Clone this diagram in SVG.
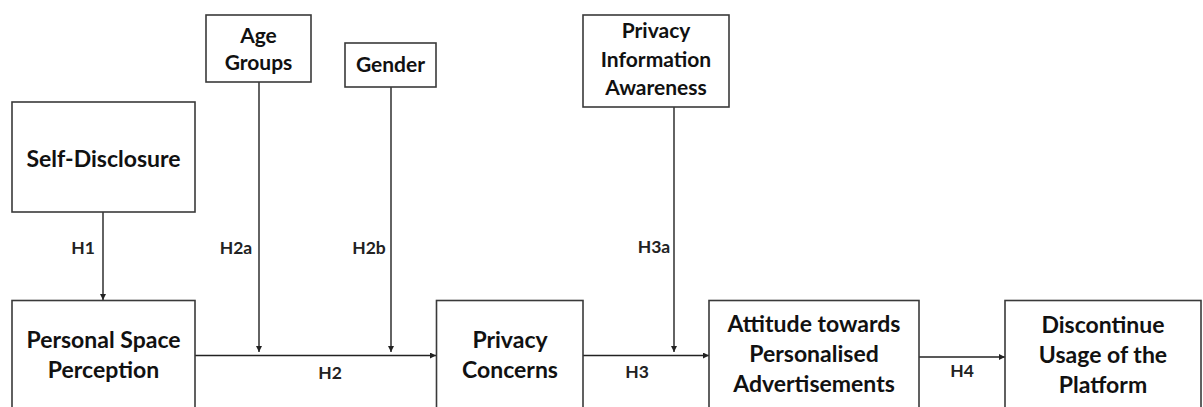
<svg xmlns="http://www.w3.org/2000/svg" width="1203" height="407" viewBox="0 0 1203 407">
<style>
.box{fill:#fff;stroke:#3a3a3a;stroke-width:1.6}
.t{font-family:Lato,"Open Sans","Liberation Sans",sans-serif;font-weight:bold;font-size:23px;fill:#111;text-anchor:middle}
.m{font-size:21px}
.s{font-family:Lato,"Open Sans","Liberation Sans",sans-serif;font-weight:bold;font-size:17.5px;fill:#222;text-anchor:middle}
.c{stroke:#222;stroke-width:1.4;fill:none;marker-end:url(#ah)}
</style>
<defs>
<marker id="ah" viewBox="0 0 10 10" refX="10" refY="5" markerWidth="6" markerHeight="6" markerUnits="userSpaceOnUse" orient="auto">
<path d="M0,0 L10,5 L0,10 z" fill="#222"/>
</marker>
</defs>
<rect width="1203" height="407" fill="#fff"/>
<g id="connectors">
<line class="c" x1="103" y1="212" x2="103" y2="300"/>
<line class="c" x1="259" y1="82" x2="259" y2="352"/>
<line class="c" x1="391" y1="87" x2="391" y2="352"/>
<line class="c" x1="195" y1="355.5" x2="436" y2="355.5"/>
<line class="c" x1="674" y1="107" x2="674" y2="352"/>
<line class="c" x1="583" y1="355.5" x2="709" y2="355.5"/>
<line class="c" x1="919" y1="357" x2="1005" y2="357"/>
<text class="s" x="83" y="254">H1</text>
<text class="s" x="236" y="254">H2a</text>
<text class="s" x="369" y="254">H2b</text>
<text class="s" x="654" y="253">H3a</text>
<text class="s" x="330" y="379">H2</text>
<text class="s" x="637" y="378">H3</text>
<text class="s" x="962" y="377">H4</text>
</g>
<g id="self-disclosure">
<rect class="box" x="12" y="102" width="183" height="110"/>
<text class="t" x="103.5" y="167">Self-Disclosure</text>
</g>
<g id="age-groups">
<rect class="box" x="206" y="15" width="105" height="67"/>
<text class="t m" x="258.5" y="43">Age</text>
<text class="t m" x="258.5" y="70">Groups</text>
</g>
<g id="gender">
<rect class="box" x="345" y="43" width="91" height="44"/>
<text class="t m" x="390.5" y="72">Gender</text>
</g>
<g id="privacy-information-awareness">
<rect class="box" x="583" y="15" width="146" height="92"/>
<text class="t m" x="656" y="38">Privacy</text>
<text class="t m" x="656" y="67">Information</text>
<text class="t m" x="656" y="95">Awareness</text>
</g>
<g id="personal-space-perception">
<rect class="box" x="12" y="300.5" width="183" height="130"/>
<text class="t" x="103.5" y="348">Personal Space</text>
<text class="t" x="103.5" y="378">Perception</text>
</g>
<g id="privacy-concerns">
<rect class="box" x="436.5" y="300.5" width="146.5" height="130"/>
<text class="t" x="510" y="348">Privacy</text>
<text class="t" x="510" y="378">Concerns</text>
</g>
<g id="attitude">
<rect class="box" x="709" y="300.5" width="210" height="130"/>
<text class="t" x="814" y="332">Attitude towards</text>
<text class="t" x="814" y="362">Personalised</text>
<text class="t" x="814" y="392">Advertisements</text>
</g>
<g id="discontinue">
<rect class="box" x="1005" y="300.5" width="196" height="130"/>
<text class="t" x="1103" y="333">Discontinue</text>
<text class="t" x="1103" y="363">Usage of the</text>
<text class="t" x="1103" y="393">Platform</text>
</g>
</svg>
